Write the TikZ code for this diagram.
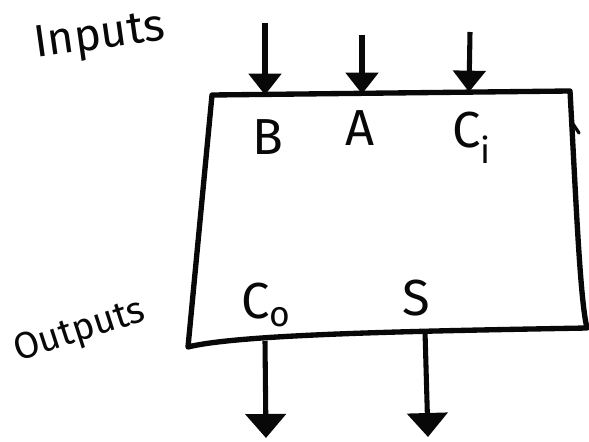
\documentclass[tikz,border=0pt]{standalone}
\usepackage{fontspec}
\setmainfont{Fira Sans}
\usepackage{tikz}
\usetikzlibrary{
  arrows.meta
}
\definecolor{penink}{RGB}{8,8,8}
\tikzset{
  blockedge/.style={draw=penink,line width=4pt,line join=round,line cap=round},
  inflow/.style={-{Triangle[width=24pt,length=16pt]},line width=3.8pt,draw=penink},
  outflow/.style={-{Triangle[width=30pt,length=18pt]},line width=3.8pt,draw=penink},
  pinlab/.style={font=\fontsize{38}{40}\selectfont,text=penink,inner sep=0pt},
  sidelab/.style={font=\fontsize{34}{36}\selectfont,text=penink,inner sep=0pt}
}
\begin{document}
\begin{tikzpicture}[x=0.75pt,y=-0.75pt]
  \useasboundingbox (0,0) rectangle (589,442);

  % the adder block
  \coordinate (tl) at (212,95);
  \coordinate (tr) at (570,91);
  \coordinate (br) at (587,328);
  \coordinate (bl) at (188,347);
  \draw[blockedge] (tl) -- (tr)
    .. controls (576,200) and (580,300) .. (br)
    .. controls (420,331) and (240,334) .. (bl) -- cycle;
  \draw[penink,line width=2.4pt,line cap=round] (571,121) -- (579,133);

  % inputs
  \coordinate (bsrc) at (265,23);
  \coordinate (bdst) at (265,95);
  \coordinate (asrc) at (362,35);
  \coordinate (adst) at (362,94);
  \coordinate (cisrc) at (470,32);
  \coordinate (cidst) at (469,92);
  \draw[inflow] (bsrc) -- (bdst);
  \draw[inflow] (asrc) -- (adst);
  \draw[inflow] (cisrc) -- (cidst);

  % outputs
  \coordinate (cosrc) at (265,341);
  \coordinate (codst) at (266,438);
  \coordinate (ssrc) at (425,331);
  \coordinate (sdst) at (428,437);
  \draw[outflow] (cosrc) -- (codst);
  \draw[outflow] (ssrc) -- (sdst);

  \node[pinlab] (bpin) at (268,137) {B};
  \node[pinlab] (apin) at (360,128) {A};
  \node[pinlab] (cipin) at (472,138) {C\textsubscript{i}};
  \node[pinlab] (copin) at (266,305) {C\textsubscript{o}};
  \node[pinlab] (spin) at (416,298) {S};

  \node[sidelab,rotate=8] (intag) at (100,38) {Inputs};
  \node[sidelab,rotate=18,font=\fontsize{28}{30}\selectfont] (outtag) at (80,332) {Outputs};
\end{tikzpicture}
\end{document}
